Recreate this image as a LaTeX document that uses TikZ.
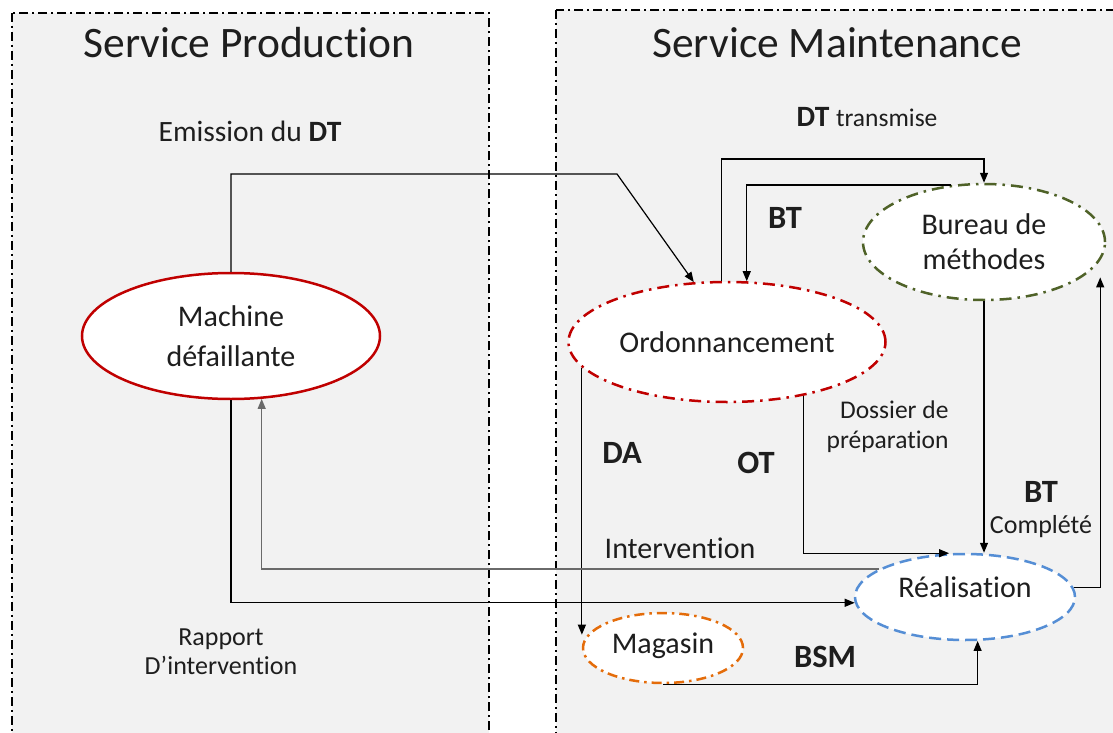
\documentclass[tikz,border=0pt]{standalone}
\usepackage{fontspec}
\setmainfont{Carlito}[Ligatures=NoCommon]
\usetikzlibrary{shapes.geometric,arrows.meta}
\definecolor{panel}{HTML}{F2F2F2}
\definecolor{mred}{RGB}{192,0,0}
\definecolor{molive}{RGB}{79,98,40}
\definecolor{mblue}{RGB}{85,142,213}
\definecolor{morange}{RGB}{228,108,10}
\definecolor{ink}{HTML}{1E1E1E}
\definecolor{feedback}{HTML}{6A6A6A}
\begin{document}
\begin{tikzpicture}[x=1pt,y=-1pt,
  zone/.style={draw=black, line width=2pt, fill=panel,
    dash pattern=on 9pt off 4pt on 2pt off 4pt},
  title/.style={font=\fontsize{43.5}{50}\selectfont, text=ink},
  proc/.style={ellipse, fill=white, inner sep=0pt, align=center,
    text=ink, font=\fontsize{30}{38}\selectfont},
  dashdot/.style={dash pattern=on 12pt off 6pt on 2.5pt off 6pt},
  flow/.style={draw=black, line width=1.2pt,
    -{Triangle[length=10pt,width=8pt]}},
  tag/.style={text=ink, font=\fontsize{32.5}{36}\selectfont\bfseries},
  note/.style={text=ink, font=\fontsize{26}{30}\selectfont},
  mid/.style={text=ink, font=\fontsize{30}{34}\selectfont}]
\useasboundingbox (0,0) rectangle (1113,733);
\clip (0,0) rectangle (1113,733);

% the two departments
\path[zone] (12,13) rectangle (489,760);
\path[zone] (556,10) rectangle (1140,760);
\node[title] (tprod) at (249,43) {Service Production};
\node[title] (tmaint) at (837,43) {Service Maintenance};

% actors
\node[proc, draw=mred, line width=2.5pt, minimum width=298pt,
  minimum height=126pt, font=\fontsize{30}{40}\selectfont]
  (mach) at (231,336) {Machine\\défaillante};
\node[proc, draw=mred, line width=2.5pt, dashdot, minimum width=317pt,
  minimum height=120pt] (ord) at (727,342) {Ordonnancement};
\node[proc, draw=molive, line width=2.5pt, dashdot, minimum width=242pt,
  minimum height=116pt, font=\fontsize{30}{35}\selectfont]
  (bur) at (984,242) {Bureau de\\méthodes};
\node[proc, draw=mblue, line width=2.5pt, dash pattern=on 12pt off 6pt,
  minimum width=220pt, minimum height=86pt]
  (real) at (965,597) {\raisebox{20pt}{Réalisation}};
\node[proc, draw=morange, line width=2.5pt,
  dash pattern=on 10pt off 5pt on 2.5pt off 5pt, minimum width=160pt,
  minimum height=70pt] (mag) at (663,648) {\raisebox{10pt}{Magasin}};

% bends of the routed links
\coordinate (dtbend) at (617,174);
\coordinate (dttop) at (850,159);

% links
\draw[flow] (mach.north) |- (dtbend) -- (ord.119);
\draw[flow] (ord.95) |- (dttop) -| (bur.north);
\draw[flow] (bur.120) -| (ord.72);
\draw[flow] (ord.190) -- (ord.190 |- mag.170);
\draw[flow] (ord.-35) |- (real.110);
\draw[flow] (bur.south) -- (bur.south |- real.north);
\draw[flow, shorten >=17pt] (real.5) -| (bur.-9);
\draw[flow, draw=feedback] (real.162) -| (mach.-64);
\draw[flow] (mach.south) |- (real.183);
\draw[flow] (mag.south) -| (real.-74);

% labels
\node[text=ink, font=\fontsize{29.5}{32}\selectfont] (lemis) at (250,131)
  {Emission du \textbf{DT}};
\node[text=ink] (ldt) at (867,117)
  {\fontsize{29.5}{32}\selectfont\textbf{DT} \fontsize{25.5}{30}\selectfont transmise};
\node[tag] (lbt1) at (785,218) {BT};
\node[tag] (lda) at (622,453) {DA};
\node[tag] (lot) at (756,463) {OT};
\node[note, align=right, anchor=east, font=\fontsize{25.5}{30}\selectfont]
  (ldos) at (952,427) {Dossier de\\préparation};
\node[tag] (lbt2) at (1041,492) {BT};
\node[note] (lcomp) at (1041,527) {Complété};
\node[mid] (linter) at (680,548) {Intervention};
\node[note, align=center, font=\fontsize{26}{29}\selectfont]
  (lrap) at (221,652) {Rapport\\D’intervention};
\node[tag] (lbsm) at (825,657) {BSM};
\end{tikzpicture}
\end{document}
